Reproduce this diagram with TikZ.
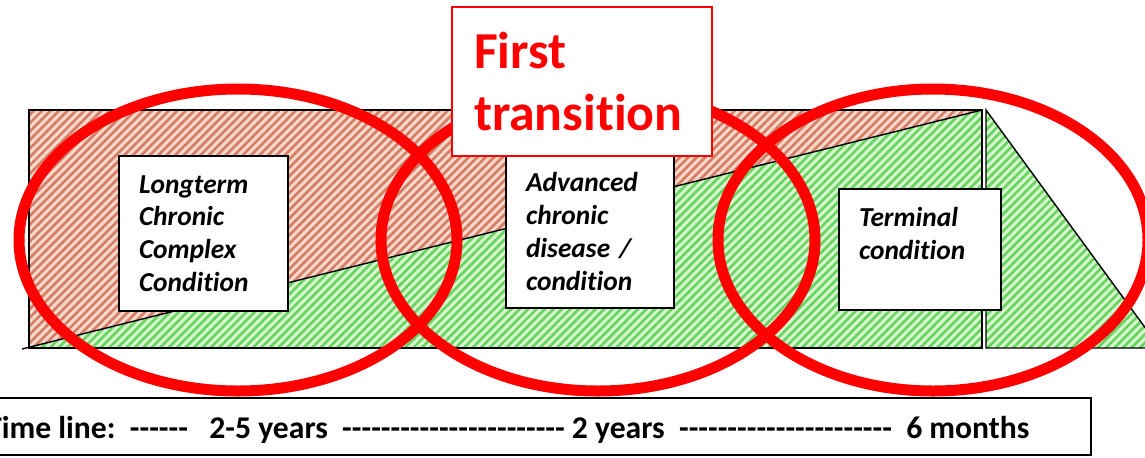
\documentclass[tikz,border=0pt]{standalone}
\usepackage{fontspec}
\setmainfont{Carlito}[Ligatures={TeXOff,CommonOff}]
\usetikzlibrary{patterns.meta}

\definecolor{stripered}{RGB}{212,124,100}
\definecolor{paper red}{RGB}{248,216,202}
\definecolor{stripegreen}{RGB}{104,212,96}
\definecolor{paper green}{RGB}{214,246,206}
\definecolor{ringred}{RGB}{255,0,0}

\begin{document}
\begin{tikzpicture}[x=0.02cm, y=-0.02cm,
    stage/.style={draw=black, thick, fill=white, align=left,
        inner xsep=0.4cm, inner ysep=0pt,
        font=\fontsize{15.6}{18.7}\selectfont\bfseries\itshape},
    ring/.style={draw=ringred, line width=0.22cm},
    redzone/.style={fill=paper red, postaction={pattern color=stripered,
        pattern={Lines[angle=45, distance=3.4pt, line width=1.5pt]}}},
    greenzone/.style={fill=paper green, postaction={pattern color=stripegreen,
        pattern={Lines[angle=45, distance=3.4pt, line width=1.5pt]}}}
]
    \clip (0,0) rectangle (1145,457);

    % trajectory areas
    \fill[redzone] (29,110) -- (982,110) -- (29,348) -- cycle;
    \fill[greenzone] (29,348) -- (982,110) -- (982,348) -- cycle;
    \draw[thick] (29,110) rectangle (982,348);
    \draw[thick] (22,349) -- (982,110);
    \fill[greenzone] (986,110) -- (1160,348) -- (986,348) -- cycle;
    \draw[thick] (986,110) -- (1160,348) -- (986,348) -- cycle;

    % stages
    \node[stage, minimum width=3.38cm, minimum height=3.1cm, text width=2.58cm]
        (chronic) at (203.5,233.5) {Longterm\\Chronic\\Complex\\Condition};
    \node[stage, minimum width=3.36cm, minimum height=3.06cm, text width=2.56cm]
        (advanced) at (590,231.5) {Advanced\\chronic\\disease /\\condition};
    \node[stage, minimum width=3.24cm, minimum height=2.42cm, text width=2.44cm]
        (terminal) at (920,249.5) {Terminal\\condition\\\mbox{}};

    % transitions
    \draw[ring] (238,240) ellipse [x radius=219, y radius=151];
    \draw[ring] (598,240) ellipse [x radius=217, y radius=151];
    \draw[ring] (933,240) ellipse [x radius=215, y radius=151];

    \node[draw=ringred, thick, fill=white, text=ringred, align=left,
        minimum width=5.2cm, minimum height=2.98cm, text width=4.32cm,
        inner xsep=0.44cm, font=\fontsize{29.5}{35}\selectfont\bfseries]
        (first) at (582,81.5) {First\\transition};

    % time line
    \draw[thick] (-10,398) rectangle (1091,455);
    \node[anchor=base east, inner sep=0pt, font=\fontsize{18}{21}\selectfont\bfseries]
        (timeline) at (1030,438)
        {Time line:~~------~~~2-5 years~~-----------------------~2 years~~----------------------~~6 months};
\end{tikzpicture}
\end{document}
